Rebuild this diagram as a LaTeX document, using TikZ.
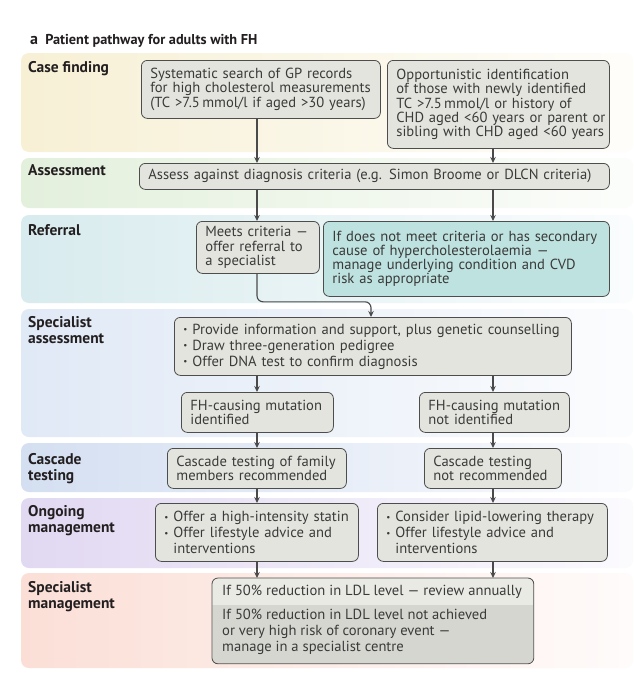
\documentclass[tikz,border=0pt]{standalone}
\usepackage{fontspec}
\setmainfont{PT Sans}
\usetikzlibrary{arrows.meta}
\definecolor{boxfill}{HTML}{E4E4DF}
\definecolor{boxlight}{HTML}{EAEAE5}
\definecolor{boxdark}{HTML}{D6D6D0}
\definecolor{boxline}{HTML}{4D4D4D}
\definecolor{tealfill}{HTML}{BEE2DF}
\definecolor{txt}{HTML}{3A3A3A}
\definecolor{labc}{HTML}{231F20}
\definecolor{arrc}{HTML}{4A4A4A}
\definecolor{bCF}{HTML}{F7F0D5}
\definecolor{bAS}{HTML}{E3F0DC}
\definecolor{bRF}{HTML}{D8EBEE}
\definecolor{bSA}{HTML}{E0E9F6}
\definecolor{bCT}{HTML}{D4DFF1}
\definecolor{bOM}{HTML}{E1D8F2}
\definecolor{bSM}{HTML}{FBDFD7}
\newcommand{\bl}{\makebox[9pt][l]{\raisebox{1.2pt}{\fontsize{9}{9}\selectfont•}}}
\newcommand{\ml}[1]{\vbox{\def\\{\egroup\hbox\bgroup}\hbox\bgroup#1\egroup}}
\tikzset{
  box/.style={draw=boxline, fill=boxfill, rounded corners=6pt, line width=0.8pt,
    inner xsep=9pt, inner ysep=0pt, anchor=north west,
    font=\fontsize{14.6}{14.2}\selectfont, text=txt},
  bbox/.style={box, font=\fontsize{14.6}{16}\selectfont},
  arr/.style={draw=arrc, line width=1.1pt, -{Stealth[length=6pt,width=5.5pt]}},
  lab/.style={anchor=base west, align=left, inner sep=0pt,
    font=\fontsize{15.5}{16}\selectfont\bfseries, text=labc},
  band/.style={rounded corners=8pt},
}
\begin{document}
\begin{tikzpicture}[x=1pt,y=-1pt]
\useasboundingbox (0,0) rectangle (633,688);
\fill[white] (0,0) rectangle (633,688);
% bands
\shade[band, left color=bCF, right color=bCF!12!white] (21,53) rectangle (633,152);
\shade[band, left color=bAS, right color=bAS!12!white] (21,158) rectangle (633,208);
\shade[band, left color=bRF, right color=bRF!12!white] (21,215) rectangle (633,303);
\shade[band, left color=bSA, right color=bSA!12!white] (21,309) rectangle (633,437);
\shade[band, left color=bCT, right color=bCT!12!white] (21,443) rectangle (633,492);
\shade[band, left color=bOM, right color=bOM!12!white] (21,498) rectangle (633,568);
\shade[band, left color=bSM, right color=bSM!12!white] (21,573) rectangle (633,668);
% title
\node[anchor=base west, inner sep=0pt, text=labc, font=\fontsize{14.3}{16}\selectfont\bfseries] (title) at (30,44)
  {{\fontsize{16}{16}\selectfont a}\enspace Patient pathway for adults with FH};
% labels
\node[lab] (lCF) at (28,72.5) {Case finding};
\node[lab] (lAS) at (28,175.5) {Assessment};
\node[lab] (lRF) at (28,235.5) {Referral};
\node[lab] (lSA) at (28,343.5) {Specialist\\assessment};
\node[lab] (lCT) at (28,480.5) {Cascade\\testing};
\node[lab] (lOM) at (28,532) {Ongoing\\management};
\node[lab] (lSM) at (28,608.5) {Specialist\\management};
% columns
\coordinate (colL) at (257,0);
\coordinate (colR) at (493,0);
\coordinate (colM) at (371,0);
% boxes
\node[box, minimum width=239pt, minimum height=58pt, text width=221pt] (bA) at (141,60)
  {\ml{Systematic search of GP records\\for high cholesterol measurements\\(TC >7.5\,mmol/l if aged >30 years)}};
\node[box, minimum width=222pt, minimum height=88pt, text width=204pt] (bB) at (387,60)
  {\ml{Opportunistic identification\\of those with newly identified\\TC >7.5\,mmol/l or history of\\CHD aged <60 years or parent or\\sibling with CHD aged <60 years}};
\node[box, minimum width=470pt, minimum height=26pt, text width=452pt] (as) at (139,163)
  {\ml{Assess against diagnosis criteria (e.g. Simon Broome or DLCN criteria)}};
\node[box, minimum width=123pt, minimum height=52pt, text width=105pt] (me) at (196,221)
  {\ml{Meets criteria —\\offer referral to\\a specialist}};
\node[box, fill=tealfill, minimum width=286pt, minimum height=75pt, text width=268pt] (te) at (323,221)
  {\ml{If does not meet criteria or has secondary\\cause of hypercholesterolaemia —\\manage underlying condition and CVD\\risk as appropriate}};
\node[bbox, minimum width=397pt, minimum height=58pt, text width=379pt] (sp) at (174,317)
  {\ml{\bl Provide information and support, plus genetic counselling\\\bl Draw three-generation pedigree\\\bl Offer DNA test to confirm diagnosis}};
\node[box, minimum width=152pt, minimum height=40pt, text width=134pt] (f1) at (181,392)
  {\ml{FH-causing mutation\\identified}};
\node[box, minimum width=150pt, minimum height=40pt, text width=132pt] (f2) at (419,392)
  {\ml{FH-causing mutation\\not identified}};
\node[box, minimum width=179pt, minimum height=40pt, text width=161pt] (c1) at (167,448)
  {\ml{Cascade testing of family\\members recommended}};
\node[box, minimum width=137pt, minimum height=40pt, text width=119pt] (c2) at (424,448)
  {\ml{Cascade testing\\not recommended}};
\node[bbox, minimum width=203pt, minimum height=58pt, text width=185pt] (o1) at (155,503)
  {\ml{\bl Offer a high-intensity statin\\\bl Offer lifestyle advice and\\\hspace*{9pt}interventions}};
\node[bbox, minimum width=230pt, minimum height=58pt, text width=212pt] (o2) at (377,503)
  {\ml{\bl Consider lipid-lowering therapy\\\bl Offer lifestyle advice and\\\hspace*{9pt}interventions}};
% specialist management box
\node[box, draw=none, fill=boxdark, minimum width=321pt, minimum height=85pt] (sm) at (212,578) {};
\begin{scope}
  \clip (212,578) rectangle (533,604);
  \fill[boxlight, rounded corners=6pt] (sm.north west) rectangle (sm.south east);
\end{scope}
\draw[boxline, line width=0.8pt, rounded corners=6pt] (sm.north west) rectangle (sm.south east);
\node[anchor=west, inner sep=0pt, text=txt, font=\fontsize{14.6}{14.2}\selectfont] (smA) at (222,592)
  {If 50\% reduction in LDL level — review annually};
\node[anchor=north west, inner sep=0pt, text=txt, font=\fontsize{14.6}{16}\selectfont] (smB) at (222,609)
  {\ml{If 50\% reduction in LDL level not achieved\\or very high risk of coronary event —\\manage in a specialist centre}};
% arrows
\draw[arr] (bA.south -| colL) -- (as.north -| colL);
\draw[arr] (bB.south -| colR) -- (as.north -| colR);
\draw[arr] (as.south -| colL) -- (me.north -| colL);
\draw[arr] (as.south -| colR) -- (te.north -| colR);
\draw[arr, rounded corners=6pt] (me.south -| colL) -- ++(0,28) -| (sp.north -| colM);
\draw[arr] (sp.south -| colL) -- (f1.north -| colL);
\draw[arr] (sp.south -| colR) -- (f2.north -| colR);
\draw[arr] (f1.south -| colL) -- (c1.north -| colL);
\draw[arr] (f2.south -| colR) -- (c2.north -| colR);
\draw[arr] (c1.south -| colL) -- (o1.north -| colL);
\draw[arr] (c2.south -| colR) -- (o2.north -| colR);
\draw[arr] (o1.south -| colL) -- (sm.north -| colL);
\draw[arr] (o2.south -| colR) -- (sm.north -| colR);
\end{tikzpicture}
\end{document}
